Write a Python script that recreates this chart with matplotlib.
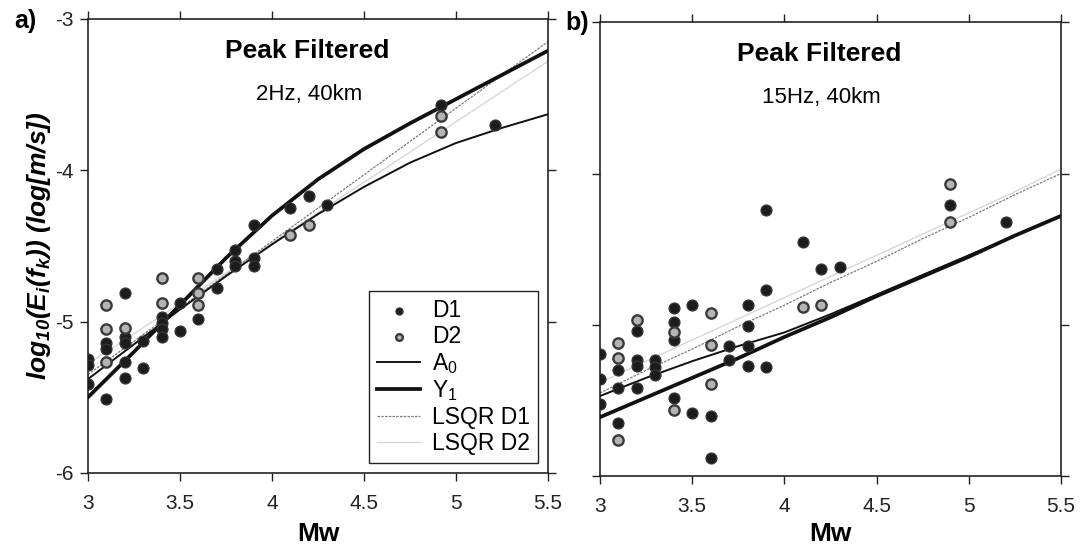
import numpy as np
import matplotlib
matplotlib.use("Agg")
import matplotlib.pyplot as plt

plt.rcParams['font.family'] = ['Liberation Sans', 'DejaVu Sans']

# panel a) 2Hz, 40km
a_d1_x = [3.0, 3.0, 3.0, 3.1, 3.1, 3.1, 3.2, 3.2, 3.2, 3.2, 3.2, 3.3, 3.3,
          3.4, 3.4, 3.4, 3.4, 3.5, 3.5, 3.6, 3.7, 3.7, 3.8, 3.8, 3.8,
          3.9, 3.9, 3.9, 4.1, 4.2, 4.3, 4.92, 5.21]
a_d1_y = [-5.25, -5.29, -5.41, -5.51, -5.14, -5.18, -4.81, -5.10, -5.14, -5.27, -5.37, -5.13, -5.31,
          -4.97, -5.01, -5.05, -5.10, -5.06, -4.88, -4.98, -4.65, -4.78, -4.53, -4.60, -4.63,
          -4.36, -4.58, -4.63, -4.25, -4.17, -4.23, -3.57, -3.70]
a_d2_x = [3.1, 3.1, 3.1, 3.2, 3.4, 3.4, 3.6, 3.6, 3.6, 4.1, 4.2, 4.92, 4.92]
a_d2_y = [-4.89, -5.05, -5.27, -5.04, -4.71, -4.88, -4.71, -4.81, -4.89, -4.43, -4.36, -3.64, -3.75]

# model curves (read every 0.25 Mw)
mw_grid = [3.0, 3.25, 3.5, 3.75, 4.0, 4.25, 4.5, 4.75, 5.0, 5.25, 5.5]
a_a0 = [-5.38, -5.15, -4.92, -4.70, -4.49, -4.29, -4.11, -3.95, -3.82, -3.72, -3.63]
a_y1 = [-5.50, -5.20, -4.89, -4.58, -4.30, -4.06, -3.86, -3.69, -3.53, -3.37, -3.21]
a_lsq1 = [-5.35, -5.13, -4.91, -4.69, -4.47, -4.25, -4.03, -3.81, -3.59, -3.37, -3.15]
a_lsq2 = [-5.28, -5.08, -4.88, -4.68, -4.48, -4.28, -4.08, -3.88, -3.68, -3.48, -3.28]

# panel b) 15Hz, 40km
b_d1_x = [3.0, 3.0, 3.0, 3.1, 3.1, 3.1, 3.2, 3.2, 3.2, 3.2, 3.3, 3.3, 3.3,
          3.4, 3.4, 3.4, 3.4, 3.5, 3.5, 3.6, 3.6, 3.7, 3.7, 3.8, 3.8, 3.8, 3.8,
          3.9, 3.9, 3.9, 4.1, 4.2, 4.3, 4.9, 5.2]
b_d1_y = [-5.19, -5.36, -5.52, -5.30, -5.42, -5.65, -5.04, -5.23, -5.27, -5.42, -5.23, -5.28, -5.33,
          -4.89, -4.98, -5.10, -5.48, -4.87, -5.58, -5.60, -5.88, -5.14, -5.23, -4.87, -5.01, -5.14, -5.27,
          -4.24, -4.77, -5.28, -4.45, -4.63, -4.62, -4.21, -4.32]
b_d2_x = [3.1, 3.1, 3.1, 3.2, 3.4, 3.4, 3.6, 3.6, 3.6, 4.1, 4.2, 4.9, 4.9]
b_d2_y = [-5.12, -5.22, -5.76, -4.97, -5.05, -5.56, -4.92, -5.13, -5.39, -4.88, -4.87, -4.07, -4.32]

b_a0 = [-5.47, -5.35, -5.24, -5.14, -5.05, -4.93, -4.80, -4.67, -4.54, -4.41, -4.28]
b_y1 = [-5.61, -5.48, -5.35, -5.22, -5.08, -4.95, -4.81, -4.68, -4.55, -4.41, -4.28]
b_lsq1 = [-5.45, -5.30, -5.16, -5.01, -4.87, -4.72, -4.58, -4.43, -4.29, -4.14, -4.00]
b_lsq2 = [-5.38, -5.24, -5.10, -4.96, -4.82, -4.68, -4.54, -4.40, -4.26, -4.12, -3.97]

fig = plt.figure(figsize=(10.86, 5.48), dpi=100)
ax_a = fig.add_axes([0.081, 0.137, 0.4236, 0.8285])
ax_b = fig.add_axes([0.5525, 0.131, 0.4245, 0.8285])


def draw_panel(ax, d1x, d1y, d2x, d2y, a0, y1, lsq1, lsq2, sub, xpad):
    ax.plot(mw_grid, lsq2, color='#d4d4d4', lw=0.9, label='LSQR D2', zorder=2)
    ax.plot(mw_grid, lsq1, color='#7a7a7a', lw=0.9, ls=(0, (2, 1)), label='LSQR D1', zorder=2)
    ax.plot(mw_grid, a0, color='#111111', lw=1.4, label='A$_\\mathregular{0}$', zorder=3)
    ax.plot(mw_grid, y1, color='#111111', lw=2.7, label='Y$_\\mathregular{1}$', zorder=3)
    ax.scatter(d1x, d1y, s=60, color='#1c1c1c', edgecolors='#333333', linewidths=1.0,
               label='D1', zorder=4)
    ax.scatter(d2x, d2y, s=55, color='#b4b4b4', edgecolors='#3a3a3a', linewidths=1.7,
               label='D2', zorder=4)
    ax.set_xlim(3, 5.5)
    ax.set_ylim(-6, -3)
    ax.set_xticks([3, 3.5, 4, 4.5, 5, 5.5])
    ax.set_xticklabels(['3', '3.5', '4', '4.5', '5', '5.5'])
    ax.set_yticks([-6, -5, -4, -3])
    ax.tick_params(direction='out', length=6, width=1, labelsize=15,
                   top=True, right=True, colors='#222222')
    ax.tick_params(axis='x', pad=9)
    ax.tick_params(axis='y', pad=4)
    for sp in ax.spines.values():
        sp.set_linewidth(1.2)
        sp.set_color('#222222')
    ax.set_xlabel('Mw', fontsize=19, fontweight='bold', labelpad=xpad)
    ax.text(4.19, -3.21, 'Peak Filtered', ha='center', va='center',
            fontsize=19, fontweight='bold')
    ax.text(4.2, -3.50, sub, ha='center', va='center', fontsize=16)


draw_panel(ax_a, a_d1_x, a_d1_y, a_d2_x, a_d2_y, a_a0, a_y1, a_lsq1, a_lsq2, '2Hz, 40km', 7)
draw_panel(ax_b, b_d1_x, b_d1_y, b_d2_x, b_d2_y, b_a0, b_y1, b_lsq1, b_lsq2, '15Hz, 40km', 4)

ax_a.set_yticklabels(['-6', '-5', '-4', '-3'])
ax_b.set_yticklabels([])
ax_a.set_ylabel('log$_\\mathregular{10}$(E$_\\mathregular{i}$(f$_\\mathregular{k}$)) (log[m/s])',
                fontsize=19, fontweight='bold', fontstyle='italic', labelpad=2)

# legend in panel a
h, l = ax_a.get_legend_handles_labels()
order = ['D1', 'D2', 'A$_\\mathregular{0}$', 'Y$_\\mathregular{1}$', 'LSQR D1', 'LSQR D2']
idx = [l.index(o) for o in order]
leg = ax_a.legend([h[i] for i in idx], [l[i] for i in idx], loc='lower right',
                  bbox_to_anchor=(0.978, 0.022), borderaxespad=0, fontsize=16.5,
                  fancybox=False, framealpha=1, edgecolor='#222222',
                  handlelength=1.9, handletextpad=0.5, labelspacing=0.12,
                  markerscale=0.65, borderpad=0.35)
leg.get_frame().set_linewidth(1.0)

fig.text(0.013, 0.962, 'a)', fontsize=18, fontweight='bold', va='center')
fig.text(0.521, 0.958, 'b)', fontsize=18, fontweight='bold', va='center')

fig.savefig('out.png', dpi=100)
